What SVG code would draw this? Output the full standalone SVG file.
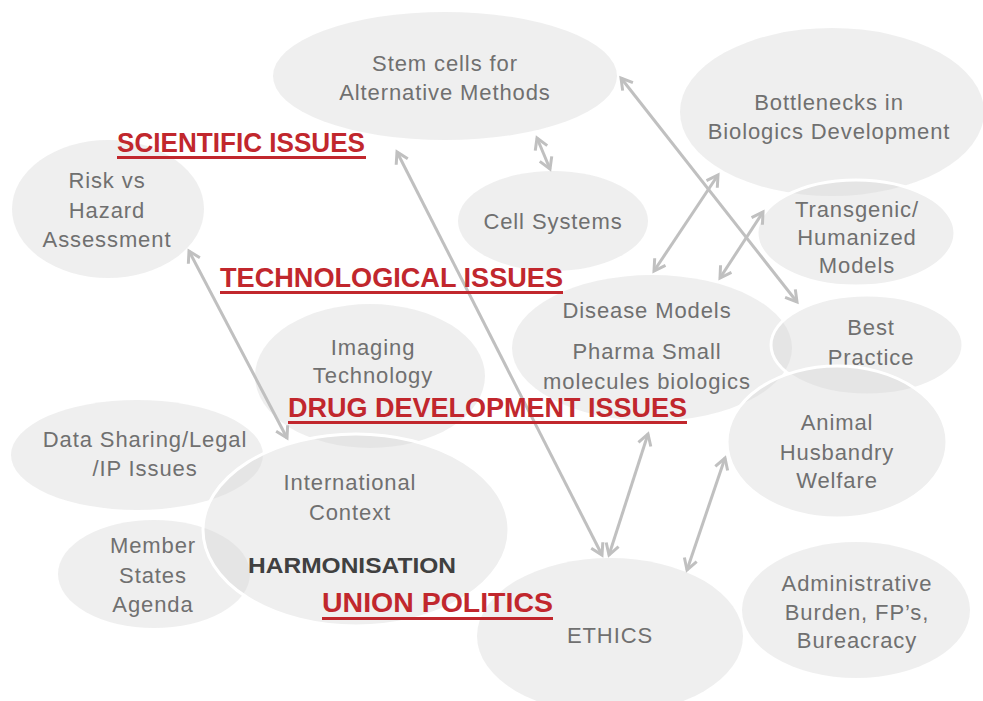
<svg xmlns="http://www.w3.org/2000/svg" width="983" height="701" viewBox="0 0 983 701">
<style>
.n{fill:#d6d6d6;fill-opacity:0.4}
.w{stroke:#ffffff;stroke-width:3}
.t{font-family:"Liberation Sans","DejaVu Sans",sans-serif;font-size:22px;letter-spacing:0.9px;fill:#707070;text-anchor:middle}
.h{font-family:"Liberation Sans","DejaVu Sans",sans-serif;font-size:27px;font-weight:bold;fill:#c1272d}
.u{stroke:#c1272d;stroke-width:3}
.c{stroke:#c0c0c0;stroke-width:3;fill:none;marker-start:url(#ah);marker-end:url(#ah)}
</style>
<defs>
<marker id="ah" viewBox="0 0 14 14" refX="12" refY="7" markerWidth="14" markerHeight="14" markerUnits="userSpaceOnUse" orient="auto-start-reverse" overflow="visible">
<path d="M1,0.5 L12,7 L1,13.5" fill="none" stroke="#c0c0c0" stroke-width="3"/>
</marker>
</defs>
<rect width="983" height="701" fill="#ffffff"/>
<g id="stem"><ellipse class="n" cx="445" cy="76" rx="172" ry="64"/><text class="t" x="445" y="71">Stem cells for</text><text class="t" x="445" y="100">Alternative Methods</text></g>
<g id="bottlenecks"><ellipse class="n" cx="832" cy="112" rx="152" ry="84"/><text class="t" x="829" y="110">Bottlenecks in</text><text class="t" x="829" y="139">Biologics Development</text></g>
<g id="transgenic"><ellipse class="n w" cx="856" cy="233" rx="99" ry="53"/><text class="t" x="857" y="217">Transgenic/</text><text class="t" x="857" y="245">Humanized</text><text class="t" x="857" y="273">Models</text></g>
<g id="risk"><ellipse class="n" cx="108" cy="209" rx="96" ry="69"/><text class="t" x="107" y="188">Risk vs</text><text class="t" x="107" y="218">Hazard</text><text class="t" x="107" y="247">Assessment</text></g>
<g id="cell"><ellipse class="n" cx="553" cy="221" rx="95" ry="50"/><text class="t" x="553" y="229">Cell Systems</text></g>
<g id="imaging"><ellipse class="n" cx="370" cy="376" rx="115" ry="72"/><text class="t" x="373" y="355">Imaging</text><text class="t" x="373" y="383">Technology</text></g>
<g id="disease"><ellipse class="n" cx="652" cy="348" rx="140" ry="73"/><text class="t" x="647" y="318">Disease Models</text><text class="t" x="647" y="359">Pharma Small</text><text class="t" x="647" y="389">molecules biologics</text></g>
<g id="best"><ellipse class="n w" cx="867" cy="345" rx="96" ry="50"/><text class="t" x="871" y="335">Best</text><text class="t" x="871" y="365">Practice</text></g>
<g id="animal"><ellipse class="n w" cx="837" cy="442" rx="110" ry="76"/><text class="t" x="837" y="430">Animal</text><text class="t" x="837" y="460">Husbandry</text><text class="t" x="837" y="488">Welfare</text></g>
<g id="datasharing"><ellipse class="n" cx="137" cy="455" rx="126" ry="55"/><text class="t" x="145" y="447">Data Sharing/Legal</text><text class="t" x="145" y="476">/IP Issues</text></g>
<g id="member"><ellipse class="n" cx="154" cy="574" rx="96" ry="54"/><text class="t" x="153" y="553">Member</text><text class="t" x="153" y="583">States</text><text class="t" x="153" y="612">Agenda</text></g>
<g id="international"><ellipse class="n w" cx="356" cy="530" rx="153" ry="96"/><text class="t" x="350" y="490">International</text><text class="t" x="350" y="520">Context</text><text x="352" y="573" text-anchor="middle" font-family="Liberation Sans, DejaVu Sans, sans-serif" font-size="22" font-weight="bold" fill="#404040" textLength="208" lengthAdjust="spacingAndGlyphs">HARMONISATION</text></g>
<g id="ethics"><ellipse class="n" cx="610" cy="636" rx="133" ry="78"/><text class="t" x="610" y="643">ETHICS</text></g>
<g id="administrative"><ellipse class="n" cx="856" cy="610" rx="114" ry="68"/><text class="t" x="857" y="591">Administrative</text><text class="t" x="857" y="620">Burden, FP’s,</text><text class="t" x="857" y="648">Bureacracy</text></g>
<g id="connectors">
<line class="c" x1="621" y1="78" x2="797" y2="302"/>
<line class="c" x1="537" y1="138" x2="550" y2="169"/>
<line class="c" x1="397" y1="152" x2="602" y2="555"/>
<line class="c" x1="654" y1="271" x2="718" y2="175"/>
<line class="c" x1="720" y1="278" x2="763" y2="212"/>
<line class="c" x1="189" y1="251" x2="287" y2="438"/>
<line class="c" x1="609" y1="555" x2="648" y2="434"/>
<line class="c" x1="687" y1="570" x2="725" y2="458"/>
</g>
<g id="headings">
<text class="h" x="117" y="152" textLength="248" lengthAdjust="spacingAndGlyphs">SCIENTIFIC ISSUES</text><line class="u" x1="117" y1="157.5" x2="366" y2="157.5"/>
<text class="h" x="220" y="287" textLength="343" lengthAdjust="spacingAndGlyphs">TECHNOLOGICAL ISSUES</text><line class="u" x1="220" y1="292.5" x2="563" y2="292.5"/>
<text class="h" x="288" y="417" textLength="399" lengthAdjust="spacingAndGlyphs">DRUG DEVELOPMENT ISSUES</text><line class="u" x1="288" y1="422.5" x2="687" y2="422.5"/>
<text class="h" x="322" y="612" textLength="231" lengthAdjust="spacingAndGlyphs">UNION POLITICS</text><line class="u" x1="322" y1="618.5" x2="553" y2="618.5"/>
</g>
</svg>
